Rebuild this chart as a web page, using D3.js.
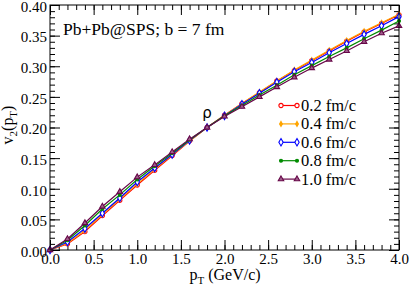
<!DOCTYPE html>
<html>
  <head>
    <meta charset="utf-8">
    <title>v2(pT)</title>
    <script src="https://d3js.org/d3.v7.min.js"></script>
    <style>
      body { margin: 0; background: #fff; }
      svg { display: block; font-family: "Liberation Serif", "DejaVu Serif", serif; }
    </style>
  </head>
  <body>
    <svg id="chart" width="409" height="286"></svg>
    <script>
      // data
      var pT = [0, 0.2, 0.4, 0.6, 0.8, 1.0, 1.2, 1.4, 1.6, 1.8, 2.0, 2.2, 2.4, 2.6, 2.8, 3.0, 3.2, 3.4, 3.6, 3.8, 4.0];
      var seriesNames = ["0.2 fm/c", "0.4 fm/c", "0.6 fm/c", "0.8 fm/c", "1.0 fm/c"];
      var v2_02 = [0, 0.010, 0.030, 0.056, 0.081, 0.106, 0.130, 0.154, 0.178, 0.200, 0.220, 0.239, 0.257, 0.276, 0.293, 0.309, 0.325, 0.341, 0.356, 0.370, 0.384];
      var v2_04 = [0, 0.011, 0.032, 0.058, 0.083, 0.108, 0.132, 0.155, 0.178, 0.200, 0.220, 0.239, 0.258, 0.276, 0.294, 0.310, 0.326, 0.342, 0.357, 0.371, 0.385];
      var v2_06 = [0, 0.013, 0.035, 0.060, 0.085, 0.111, 0.134, 0.156, 0.179, 0.200, 0.219, 0.238, 0.256, 0.274, 0.291, 0.306, 0.322, 0.337, 0.352, 0.366, 0.381];
      var v2_08 = [0, 0.016, 0.040, 0.067, 0.090, 0.115, 0.137, 0.158, 0.180, 0.200, 0.219, 0.236, 0.253, 0.269, 0.286, 0.301, 0.316, 0.330, 0.345, 0.359, 0.374];
      var v2_10 = [0, 0.018, 0.044, 0.071, 0.095, 0.119, 0.139, 0.160, 0.181, 0.200, 0.218, 0.234, 0.250, 0.266, 0.282, 0.297, 0.311, 0.325, 0.340, 0.354, 0.366];
      var xTicks = [0, 0.5, 1.0, 1.5, 2.0, 2.5, 3.0, 3.5, 4.0];
      var yTicks = [0, 0.05, 0.10, 0.15, 0.20, 0.25, 0.30, 0.35, 0.40];

      var styles = [
        { color: "#ff0000", sym: d3.symbolCircle, size: 14, fill: "#fff" },
        { color: "#ffa500", sym: d3.symbolDiamond, size: 7, fill: "#ffa500" },
        { color: "#0000ff", sym: d3.symbolDiamond, size: 16, fill: "#fff" },
        { color: "#008b00", sym: d3.symbolCircle, size: 7, fill: "#008b00" },
        { color: "#670748", sym: d3.symbolTriangle, size: 13, fill: "#a0608c" }
      ];
      var allSeries = [v2_02, v2_04, v2_06, v2_08, v2_10];

      var margin = { top: 5, right: 10, bottom: 36, left: 50 };
      var width = 409, height = 286;
      var svg = d3.select("#chart");

      var x = d3.scaleLinear().domain([0, 4]).range([margin.left, width - margin.right]);
      var y = d3.scaleLinear().domain([0, 0.4]).range([height - margin.bottom, margin.top]);

      var minorX = d3.range(0, 4.001, 0.1);
      var minorY = d3.range(0, 0.4001, 0.01);

      // ticks pointing inward on all four sides
      function ticks(g, axis) {
        g.call(axis);
        g.select(".domain").remove();
        g.selectAll(".tick line").attr("stroke", "#000");
        g.selectAll(".tick text").attr("fill", "#000")
          .style("font-size", "15px").style("font-family", "Liberation Serif");
      }
      svg.append("g").attr("transform", "translate(0," + y(0) + ")")
        .call(ticks, d3.axisBottom(x).tickValues(minorX).tickSize(-5).tickFormat(""));
      svg.append("g").attr("transform", "translate(0," + y(0) + ")")
        .call(ticks, d3.axisBottom(x).tickValues(xTicks).tickSize(-10).tickPadding(3).tickFormat(d3.format(".1f")));
      svg.append("g").attr("transform", "translate(0," + y(0.4) + ")")
        .call(ticks, d3.axisTop(x).tickValues(minorX).tickSize(-5).tickFormat(""));
      svg.append("g").attr("transform", "translate(0," + y(0.4) + ")")
        .call(ticks, d3.axisTop(x).tickValues(xTicks).tickSize(-10).tickFormat(""));
      svg.append("g").attr("transform", "translate(" + x(0) + ",0)")
        .call(ticks, d3.axisLeft(y).tickValues(minorY).tickSize(-5).tickFormat(""));
      svg.append("g").attr("transform", "translate(" + x(0) + ",0)")
        .call(ticks, d3.axisLeft(y).tickValues(yTicks).tickSize(-10).tickPadding(3).tickFormat(d3.format(".2f")))
        .selectAll(".tick text").attr("dy", "0.42em");
      svg.append("g").attr("transform", "translate(" + x(4) + ",0)")
        .call(ticks, d3.axisRight(y).tickValues(minorY).tickSize(-5).tickFormat(""));
      svg.append("g").attr("transform", "translate(" + x(4) + ",0)")
        .call(ticks, d3.axisRight(y).tickValues(yTicks).tickSize(-10).tickFormat(""));

      // series
      var line = d3.line()
        .x(function(d, i) { return x(pT[i]); })
        .y(function(d) { return y(d); });
      allSeries.forEach(function(s, k) {
        var st = styles[k];
        var g = svg.append("g");
        g.append("path").attr("d", line(s))
          .attr("fill", "none").attr("stroke", st.color).attr("stroke-width", 1.2);
        g.selectAll("path.pt").data(s).join("path").attr("class", "pt")
          .attr("transform", function(d, i) { return "translate(" + x(pT[i]) + "," + y(d) + ")"; })
          .attr("d", d3.symbol().type(st.sym).size(st.size))
          .attr("fill", st.fill).attr("stroke", st.color).attr("stroke-width", 1.1);
      });

      // frame
      svg.append("rect")
        .attr("x", x(0)).attr("y", y(0.4))
        .attr("width", x(4) - x(0)).attr("height", y(0) - y(0.4))
        .attr("fill", "none").attr("stroke", "#000").attr("stroke-width", 1);

      // legend
      var legend = svg.append("g");
      seriesNames.forEach(function(name, k) {
        var st = styles[k];
        var ly = 105.5 + k * 18.4;
        legend.append("line").attr("x1", 281).attr("x2", 297).attr("y1", ly).attr("y2", ly)
          .attr("stroke", st.color).attr("stroke-width", 1.2);
        [281, 297].forEach(function(lx) {
          legend.append("path").attr("transform", "translate(" + lx + "," + ly + ")")
            .attr("d", d3.symbol().type(st.sym).size(st.size))
            .attr("fill", st.fill).attr("stroke", st.color).attr("stroke-width", 1.1);
        });
        legend.append("text").attr("x", 301).attr("y", ly + 5.5)
          .style("font-size", "16.5px").text(name);
      });

      // labels
      svg.append("text").attr("x", 63).attr("y", 35).style("font-size", "17.5px")
        .text("Pb+Pb@SPS; b = 7 fm");
      svg.append("text").attr("x", x(1.8)).attr("y", 118)
        .attr("text-anchor", "middle").style("font-family", "DejaVu Sans").style("font-size", "15px").text("ρ");

      var xt = svg.append("text").attr("x", 225).attr("y", 280).style("font-size", "16px").attr("text-anchor", "middle");
      xt.append("tspan").text("p");
      xt.append("tspan").style("font-size", "11px").attr("dy", 4).text("T");
      xt.append("tspan").attr("dy", -4).text(" (GeV/c)");

      var yt = svg.append("text").attr("transform", "translate(13,125) rotate(-90)")
        .style("font-size", "16px").attr("text-anchor", "middle");
      yt.append("tspan").text("v");
      yt.append("tspan").style("font-size", "11px").attr("dy", 4).text("2");
      yt.append("tspan").attr("dy", -4).text("(p");
      yt.append("tspan").style("font-size", "11px").attr("dy", 4).text("T");
      yt.append("tspan").attr("dy", -4).text(")");
    </script>
  </body>
</html>
